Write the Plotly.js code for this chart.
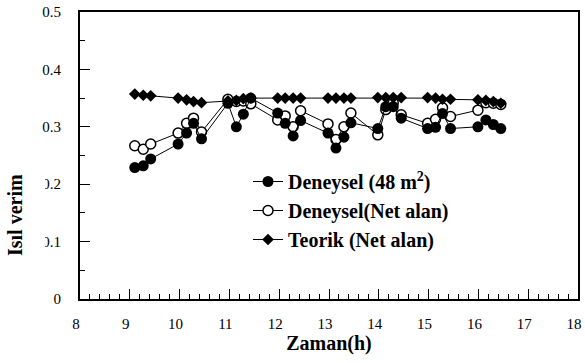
<!DOCTYPE html>
<html>
<head>
<meta charset="utf-8">
<script src="https://cdn.plot.ly/plotly-3.0.1.min.js"></script>
<style>html,body{margin:0;padding:0;background:#fff;}#chart{width:585px;height:363px;}</style>
</head>
<body>
<div id="chart"></div>
<script>
const time = [9.10, 9.27, 9.42, 9.97, 10.14, 10.28, 10.44, 10.97, 11.14, 11.28, 11.43,
  11.97, 12.12, 12.28, 12.43, 12.98, 13.14, 13.30, 13.44, 13.98, 14.14, 14.29, 14.45,
  14.98, 15.14, 15.28, 15.44, 15.99, 16.15, 16.30, 16.45];
const deneysel48 = [0.229, 0.232, 0.244, 0.270, 0.289, 0.306, 0.279, 0.341, 0.300, 0.322, 0.350,
  0.324, 0.306, 0.284, 0.311, 0.289, 0.263, 0.282, 0.307, 0.297, 0.335, 0.335, 0.315,
  0.297, 0.299, 0.323, 0.297, 0.300, 0.312, 0.304, 0.297];
const deneyselNet = [0.267, 0.261, 0.270, 0.289, 0.306, 0.315, 0.291, 0.348, 0.344, 0.345, 0.340,
  0.312, 0.319, 0.300, 0.328, 0.305, 0.278, 0.300, 0.324, 0.286, 0.330, 0.342, 0.321,
  0.306, 0.313, 0.333, 0.318, 0.329, 0.342, 0.341, 0.339];
const teorikNet = [0.357, 0.355, 0.354, 0.350, 0.347, 0.344, 0.342, 0.345, 0.346, 0.349, 0.350,
  0.350, 0.350, 0.350, 0.350, 0.350, 0.350, 0.350, 0.350, 0.351, 0.351, 0.351, 0.351,
  0.351, 0.350, 0.348, 0.348, 0.347, 0.346, 0.344, 0.341];
const names = ['Deneysel (48 m<sup>2</sup>)', 'Deneysel(Net alan)', 'Teorik (Net alan)'];
const xTickVals = [8, 9, 10, 11, 12, 13, 14, 15, 16, 17, 18];
const yTickVals = [0, 0.1, 0.2, 0.3, 0.4, 0.5];
const yTickText = ['0', '0.1', '0.2', '0.3', '0.4', '0.5'];

const serif = 'Liberation Serif';
const traces = [
  {x: time, y: deneyselNet, name: names[1], mode: 'lines+markers', legendrank: 2,
   line: {color: '#000', width: 1},
   marker: {symbol: 'circle', size: 10, color: '#fff', line: {color: '#000', width: 1.5}}},
  {x: time, y: deneysel48, name: names[0], mode: 'lines+markers', legendrank: 1,
   line: {color: '#000', width: 1},
   marker: {symbol: 'circle', size: 11, color: '#000', line: {color: '#000', width: 0}}},
  {x: time, y: teorikNet, name: names[2], mode: 'lines+markers', legendrank: 3,
   line: {color: '#000', width: 1},
   marker: {symbol: 'diamond', size: 9, color: '#000', line: {width: 0}}}
];

const L = 80, R = 578, T = 12, B = 299;
const px = v => (v - L) / (R - L);
const py = v => (B - v) / (B - T);

const layout = {
  width: 585, height: 363,
  margin: {l: L, r: 585 - R, t: T, b: 363 - B},
  paper_bgcolor: '#fff', plot_bgcolor: '#fff',
  font: {family: serif, size: 15, color: '#000'},
  showlegend: true,
  legend: {x: px(248), y: py(162), xanchor: 'left', yanchor: 'top', bgcolor: 'rgba(0,0,0,0)',
    font: {family: serif, size: 20, color: '#000', weight: 'bold'}, tracegroupgap: 0,
    itemwidth: 30},
  xaxis: {range: [8, 18], tickvals: xTickVals, ticks: 'inside', ticklen: 10, tickwidth: 1,
    tickcolor: '#000', showline: true, linecolor: '#000', linewidth: 2, mirror: true,
    showgrid: false, zeroline: false, ticklabelstandoff: 10, ticklabelshift: -4,
    tickfont: {family: serif, size: 15},
    minor: {dtick: 0.2, ticks: 'inside', ticklen: 5, tickwidth: 1, tickcolor: '#000', showgrid: false},
    title: {text: '<b>Zaman(h)</b>', font: {family: serif, size: 20}, standoff: 5}},
  yaxis: {range: [0, 0.5], tickvals: yTickVals, ticktext: yTickText, ticks: 'inside', ticklen: 10,
    tickwidth: 1, tickcolor: '#000', showline: true, linecolor: '#000', linewidth: 2, mirror: true,
    showgrid: false, zeroline: false, ticklabelstandoff: 14,
    tickfont: {family: serif, size: 15},
    minor: {dtick: 0.05, ticks: 'inside', ticklen: 5, tickwidth: 1, tickcolor: '#000', showgrid: false}},
  shapes: [{type: 'rect', xref: 'paper', yref: 'paper', x0: px(0), x1: px(45), y0: py(262), y1: py(172),
    fillcolor: '#fff', line: {width: 0}, layer: 'above'}],
  annotations: [{text: '<b>Isıl verim</b>', xref: 'paper', yref: 'paper', x: px(15), y: py(215),
    xanchor: 'center', yanchor: 'middle', textangle: -90, showarrow: false,
    font: {family: serif, size: 20, color: '#000'}}]
};
Plotly.newPlot('chart', traces, layout, {staticPlot: true, displayModeBar: false});
</script>
</body>
</html>
